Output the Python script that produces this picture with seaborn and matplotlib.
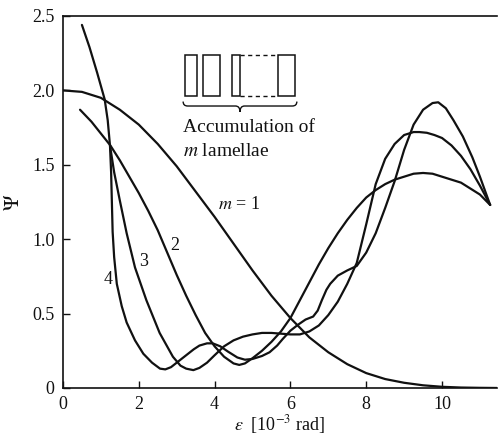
import numpy as np
import pandas as pd
import matplotlib
matplotlib.use("Agg")
import matplotlib.pyplot as plt
import seaborn as sns
from matplotlib.patches import Rectangle, PathPatch
from matplotlib.path import Path

sns.set_theme(style="ticks")
plt.rcParams["font.family"] = ["Liberation Serif", "DejaVu Serif"]
plt.rcParams["mathtext.fontset"] = "stix"

# --- values (eps in 1e-3 rad, psi) ---
m1_x = [0, 0.5, 1.0, 1.5, 2.0, 2.5, 3.0, 3.5, 4.0, 4.5, 5.0, 5.5, 6.0, 6.5, 7.0,
        7.5, 8.0, 8.5, 9.0, 9.5, 10.0, 10.5, 11.0, 11.45]
m1_y = [2.00, 1.99, 1.95, 1.87, 1.77, 1.64, 1.49, 1.32, 1.15, 0.97, 0.79, 0.62,
        0.47, 0.34, 0.24, 0.16, 0.10, 0.06, 0.035, 0.018, 0.008, 0.003, 0.001, 0.0]

m2_x = [0.45, 0.75, 1.0, 1.25, 1.5, 1.75, 2.0, 2.25, 2.5, 2.75, 3.0, 3.25, 3.5,
        3.75, 4.0, 4.25, 4.5, 4.65, 4.8, 5.0, 5.25, 5.5, 5.75, 6.0, 6.25, 6.5,
        6.75, 7.0, 7.25, 7.5, 7.75, 8.0, 8.25, 8.5, 8.75, 9.0, 9.25, 9.5, 9.75,
        10.0, 10.25, 10.5, 10.75, 11.0, 11.27]
m2_y = [1.87, 1.79, 1.71, 1.63, 1.53, 1.42, 1.31, 1.19, 1.06, 0.91, 0.76, 0.62,
        0.49, 0.37, 0.28, 0.21, 0.165, 0.155, 0.165, 0.20, 0.25, 0.31, 0.38,
        0.47, 0.59, 0.71, 0.83, 0.94, 1.04, 1.13, 1.21, 1.28, 1.33, 1.37, 1.40,
        1.42, 1.44, 1.445, 1.44, 1.42, 1.40, 1.38, 1.34, 1.30, 1.23]

m3_x = [1.24, 1.35, 1.5, 1.68, 1.9, 2.2, 2.55, 2.9, 3.1, 3.25, 3.44, 3.6, 3.8,
        4.0, 4.25, 4.5, 4.75, 5.0, 5.25, 5.5, 5.75, 6.0, 6.25, 6.5, 6.75, 7.0,
        7.25, 7.5, 7.75, 8.0, 8.25, 8.5, 8.75, 9.0, 9.25, 9.4, 9.6, 9.8, 10.0,
        10.25, 10.5, 10.75, 11.0, 11.27]
m3_y = [1.63, 1.45, 1.26, 1.04, 0.81, 0.59, 0.37, 0.21, 0.15, 0.13, 0.12, 0.135,
        0.17, 0.22, 0.28, 0.32, 0.345, 0.36, 0.37, 0.37, 0.365, 0.36, 0.36, 0.38,
        0.42, 0.49, 0.58, 0.70, 0.84, 1.10, 1.37, 1.54, 1.64, 1.70, 1.72, 1.72,
        1.715, 1.70, 1.68, 1.63, 1.56, 1.47, 1.36, 1.23]

m4_x = [0.5, 0.7, 0.9, 1.0, 1.1, 1.18, 1.24, 1.27, 1.29, 1.31, 1.35, 1.42, 1.55,
        1.68, 1.9, 2.12, 2.35, 2.56, 2.7, 2.85, 3.0, 3.25, 3.45, 3.6, 3.8, 3.95,
        4.15, 4.35, 4.6, 4.8, 5.0, 5.25, 5.45, 5.65, 5.8, 6.0, 6.2, 6.4, 6.6,
        6.72, 6.83, 6.95, 7.05, 7.25, 7.5, 7.75, 8.0, 8.25, 8.5, 8.75, 9.0, 9.25,
        9.5, 9.75, 9.9, 10.1, 10.3, 10.55, 10.8, 11.0, 11.27]
m4_y = [2.44, 2.29, 2.12, 2.03, 1.94, 1.80, 1.63, 1.45, 1.25, 1.05, 0.88, 0.70,
        0.55, 0.44, 0.32, 0.23, 0.17, 0.13, 0.125, 0.14, 0.17, 0.22, 0.26, 0.285,
        0.30, 0.30, 0.28, 0.245, 0.205, 0.19, 0.195, 0.215, 0.24, 0.285, 0.33,
        0.385, 0.425, 0.46, 0.48, 0.52, 0.59, 0.66, 0.70, 0.755, 0.79, 0.82, 0.91,
        1.04, 1.21, 1.39, 1.60, 1.77, 1.87, 1.915, 1.92, 1.88, 1.80, 1.69, 1.55,
        1.42, 1.23]

x_ticks = [0, 2, 4, 6, 8, 10]
y_ticks = [0, 0.5, 1.0, 1.5, 2.0, 2.5]
y_tick_labels = ["0", "0.5", "1.0", "1.5", "2.0", "2.5"]

curve_labels = ["2", "3", "4"]
curve_label_x = [2.96, 2.12, 1.20]
curve_label_y = [0.96, 0.85, 0.73]

series = {1: (m1_x, m1_y), 2: (m2_x, m2_y), 3: (m3_x, m3_y), 4: (m4_x, m4_y)}
df = pd.concat([pd.DataFrame({"eps": xs, "psi": ys, "m": m})
                for m, (xs, ys) in series.items()], ignore_index=True)

ink = "#111111"
fig = plt.figure(figsize=(5.01, 4.38), dpi=100)
ax = fig.add_axes([0.1257, 0.1142, 0.8663, 0.8493])

sns.lineplot(data=df, x="eps", y="psi", units="m", estimator=None, sort=False,
             color=ink, linewidth=1.6, ax=ax, legend=False)

ax.set_xlim(0, 11.45)
ax.set_ylim(0, 2.5)
ax.set_xticks(x_ticks)
ax.set_yticks(y_ticks)
ax.set_yticklabels(y_tick_labels)
ax.tick_params(direction="in", length=5, width=1, labelsize=13, pad=6,
               colors=ink, top=False, right=False)
ax.spines["right"].set_visible(False)
for s in ["left", "bottom", "top"]:
    ax.spines[s].set_linewidth(1.2)
    ax.spines[s].set_color(ink)

ax.set_xlabel(r"$\varepsilon$  [10$^{-3}$ rad]", fontsize=13, labelpad=0, color=ink)
ax.set_ylabel(r"$\mathit{\Psi}$", fontsize=15, labelpad=6, color=ink)

# curve labels
for t, lx, ly in zip(curve_labels, curve_label_x, curve_label_y):
    ax.text(lx, ly, t, fontsize=13, ha="center", va="center", color=ink)
ax.text(4.1, 1.23, r"$m$ = 1", fontsize=13, ha="left", va="center", color=ink)

# inset sketch: accumulation of lamellae
box_y, box_h = 1.96, 0.28
for bx, bw in [(3.22, 0.32), (3.69, 0.45), (4.46, 0.21), (5.67, 0.45)]:
    ax.add_patch(Rectangle((bx, box_y), bw, box_h, fill=False, lw=1.1, ec=ink))
for yy in (box_y, box_y + box_h):
    ax.plot([4.67, 5.67], [yy, yy], color=ink, lw=1.0, ls=(0, (3, 2.5)))

bx0, bx1, bxm = 3.17, 6.17, 4.67
y_end, y_mid, y_tip, dx = 1.925, 1.895, 1.855, 0.12
verts = [(bx0, y_end), (bx0, y_mid), (bx0 + dx, y_mid), (bxm - dx, y_mid),
         (bxm, y_mid), (bxm, y_tip), (bxm, y_mid), (bxm + dx, y_mid),
         (bx1 - dx, y_mid), (bx1, y_mid), (bx1, y_end)]
codes = [Path.MOVETO, Path.CURVE3, Path.CURVE3, Path.LINETO, Path.CURVE3,
         Path.CURVE3, Path.CURVE3, Path.CURVE3, Path.LINETO, Path.CURVE3, Path.CURVE3]
ax.add_patch(PathPatch(Path(verts, codes), fill=False, lw=1.0, ec=ink))

ax.text(3.17, 1.75, "Accumulation of", fontsize=14, ha="left", va="center", color=ink)
ax.text(3.17, 1.59, r"$m$ lamellae", fontsize=14, ha="left", va="center", color=ink)

fig.savefig("out.png", dpi=100)
